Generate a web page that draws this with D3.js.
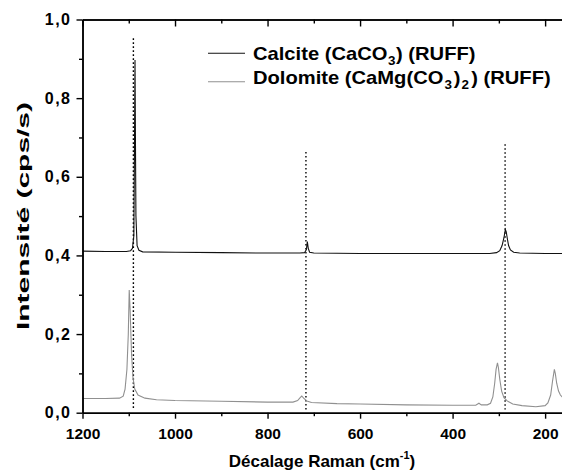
<!DOCTYPE html>
<html>
<head>
<meta charset="utf-8">
<script src="https://cdn.jsdelivr.net/npm/d3@7"></script>
<style>
  html, body { margin: 0; padding: 0; background: #fff; }
  svg { display: block; font-family: "Liberation Sans", Arial, sans-serif; }
</style>
</head>
<body>
<svg id="chart"></svg>
<script>
// Spektren (Raman-Verschiebung in cm-1, Intensität)
const calcite = [
  [1200, 0.411], [1150, 0.410], [1105, 0.410], [1096, 0.412], [1092, 0.418],
  [1089, 0.450], [1087.5, 0.700], [1086.5, 0.897], [1085.5, 0.686], [1084.5, 0.500],
  [1082, 0.425], [1078, 0.413], [1070, 0.409], [1000, 0.408], [900, 0.407],
  [800, 0.406], [730, 0.406], [720, 0.407], [716, 0.415], [714, 0.435],
  [712, 0.418], [709, 0.408], [700, 0.406], [600, 0.405], [500, 0.405],
  [400, 0.405], [320, 0.405], [305, 0.407], [298, 0.412], [293, 0.425],
  [289, 0.445], [286, 0.466], [284, 0.460], [282, 0.445], [279, 0.425],
  [275, 0.414], [268, 0.408], [255, 0.406], [200, 0.405], [160, 0.405]
];

const dolomite = [
  [1200, 0.036], [1150, 0.036], [1120, 0.037], [1112, 0.042], [1108, 0.060],
  [1104, 0.110], [1101, 0.200], [1099, 0.312], [1097, 0.260], [1094, 0.150],
  [1091, 0.090], [1087, 0.060], [1080, 0.045], [1065, 0.037], [1040, 0.033],
  [1000, 0.031], [900, 0.029], [800, 0.027], [745, 0.027], [735, 0.031],
  [729, 0.039], [726, 0.0425], [722, 0.037], [715, 0.030], [705, 0.026],
  [650, 0.023], [600, 0.022], [500, 0.020], [400, 0.019], [350, 0.019],
  [343, 0.024], [338, 0.020], [325, 0.020], [318, 0.024], [313, 0.040],
  [309, 0.075], [306, 0.110], [303, 0.127], [301, 0.115], [298, 0.085],
  [294, 0.055], [289, 0.038], [282, 0.030], [270, 0.022], [250, 0.018],
  [220, 0.015], [200, 0.018], [194, 0.025], [188, 0.045], [184, 0.080],
  [180, 0.110], [178, 0.100], [175, 0.075], [171, 0.055], [167, 0.045], [160, 0.036]
];

// gepunktete Referenzlinien: Position und obere Grenze
const refShift = [1090, 717, 286.5];
const refTop   = [0.952, 0.663, 0.683];

const xMajor = [1200, 1000, 800, 600, 400, 200];
const xMinor = [1100, 900, 700, 500, 300];
const yMajor = [0, 0.2, 0.4, 0.6, 0.8, 1.0];
const yMinor = [0.1, 0.3, 0.5, 0.7, 0.9];

const width = 562, height = 471;
const plotLeft = 82.5, plotRight = 562, plotTop = 19.5, plotBottom = 412.7;

const svg = d3.select("#chart")
  .attr("width", width)
  .attr("height", height);

const x = d3.scaleLinear().domain([1200, 163.5]).range([plotLeft, plotRight]);
const y = d3.scaleLinear().domain([0, 1]).range([plotBottom, plotTop]);

const comma = d => d3.format(".1f")(d).replace(".", ",");

svg.append("clipPath").attr("id", "plot")
  .append("rect")
  .attr("x", plotLeft).attr("y", plotTop)
  .attr("width", plotRight - plotLeft).attr("height", plotBottom - plotTop);

// Referenzlinien
svg.append("g")
  .selectAll("line")
  .data(refShift)
  .join("line")
  .attr("x1", d => x(d)).attr("x2", d => x(d))
  .attr("y1", (d, i) => y(refTop[i]))
  .attr("y2", y(0.008))
  .attr("stroke", "#000")
  .attr("stroke-width", 1.4)
  .attr("stroke-dasharray", "1.6,2.4");

const line = d3.line().x(d => x(d[0])).y(d => y(d[1]));

const plot = svg.append("g").attr("clip-path", "url(#plot)");

plot.append("path")
  .datum(dolomite)
  .attr("d", line)
  .attr("fill", "none")
  .attr("stroke", "#909090")
  .attr("stroke-width", 1.1);

plot.append("path")
  .datum(calcite)
  .attr("d", line)
  .attr("fill", "none")
  .attr("stroke", "#111")
  .attr("stroke-width", 1.1);

// Achsen
function styleAxis(g) {
  g.attr("font-family", null).attr("font-size", null);
  g.selectAll(".domain").attr("stroke", "#000").attr("stroke-width", 1.5);
  g.selectAll(".tick line").attr("stroke", "#000").attr("stroke-width", 1.4);
  g.selectAll(".tick text")
    .attr("fill", "#000")
    .style("font-size", "15.5px")
    .style("font-weight", "bold")
    .style("font-family", "'Liberation Sans', Arial, sans-serif");
}

svg.append("g")
  .attr("transform", `translate(0,${plotBottom})`)
  .call(d3.axisBottom(x).tickValues(xMinor).tickSize(3.5).tickSizeOuter(0).tickFormat(""))
  .call(styleAxis);

const xAxis = svg.append("g")
  .attr("transform", `translate(0,${plotBottom})`)
  .call(d3.axisBottom(x).tickValues(xMajor).tickSize(6).tickSizeOuter(0).tickFormat(d3.format("d")))
  .call(styleAxis);
xAxis.selectAll(".tick text").attr("y", 15);

svg.append("g")
  .attr("transform", `translate(0,${plotTop})`)
  .call(d3.axisTop(x).tickValues(xMinor).tickSize(-4).tickSizeOuter(0).tickFormat(""))
  .call(styleAxis);

svg.append("g")
  .attr("transform", `translate(0,${plotTop})`)
  .call(d3.axisTop(x).tickValues(xMajor).tickSize(-7).tickSizeOuter(0).tickFormat(""))
  .call(styleAxis);

svg.append("g")
  .attr("transform", `translate(${plotLeft},0)`)
  .call(d3.axisLeft(y).tickValues(yMinor).tickSize(3.5).tickSizeOuter(0).tickFormat(""))
  .call(styleAxis);

const yAxis = svg.append("g")
  .attr("transform", `translate(${plotLeft},0)`)
  .call(d3.axisLeft(y).tickValues(yMajor).tickSize(6).tickSizeOuter(0).tickFormat(comma))
  .call(styleAxis);
yAxis.selectAll(".tick text")
  .attr("x", -11)
  .attr("letter-spacing", "1.5px")
  .style("font-size", "16px");

// Achsentitel
const xTitle = svg.append("text")
  .attr("x", 322).attr("y", 466.5)
  .attr("text-anchor", "middle")
  .attr("font-size", "17px")
  .attr("font-weight", "bold");
xTitle.append("tspan").text("Décalage Raman (cm");
xTitle.append("tspan").attr("font-size", "11px").attr("dy", -8).text("-1");
xTitle.append("tspan").attr("dy", 8).text(")");

svg.append("text")
  .attr("transform", "translate(29,216) rotate(-90)")
  .attr("text-anchor", "middle")
  .attr("font-size", "16px")
  .attr("font-weight", "bold")
  .attr("textLength", 228)
  .attr("lengthAdjust", "spacingAndGlyphs")
  .text("Intensité (cps/s)");

// Legende
const legend = svg.append("g");
const l1y = 53.3, l2y = 81.7;
legend.append("line")
  .attr("x1", 208).attr("x2", 245).attr("y1", l1y).attr("y2", l1y)
  .attr("stroke", "#111").attr("stroke-width", 1.1);
legend.append("line")
  .attr("x1", 208).attr("x2", 245).attr("y1", l2y).attr("y2", l2y)
  .attr("stroke", "#909090").attr("stroke-width", 1.1);

const t1 = legend.append("text")
  .attr("transform", "translate(253,60) scale(1.12,1)")
  .attr("font-size", "18px").attr("font-weight", "bold");
t1.append("tspan").text("Calcite (CaCO");
t1.append("tspan").attr("font-size", "12px").attr("dy", 5).attr("dx", 0.5).text("3");
t1.append("tspan").attr("dy", -5).attr("dx", 0.5).text(") (RUFF)");

const t2 = legend.append("text")
  .attr("transform", "translate(253,84.3) scale(1.12,1)")
  .attr("font-size", "18px").attr("font-weight", "bold");
t2.append("tspan").text("Dolomite (CaMg(CO");
t2.append("tspan").attr("font-size", "12px").attr("dy", 5).attr("dx", 1).text("3");
t2.append("tspan").attr("dy", -5).attr("dx", 1.5).text(")");
t2.append("tspan").attr("font-size", "12px").attr("dy", 5).attr("dx", 1).text("2");
t2.append("tspan").attr("dy", -5).attr("dx", 2).text(") (RUFF)");
</script>
</body>
</html>
